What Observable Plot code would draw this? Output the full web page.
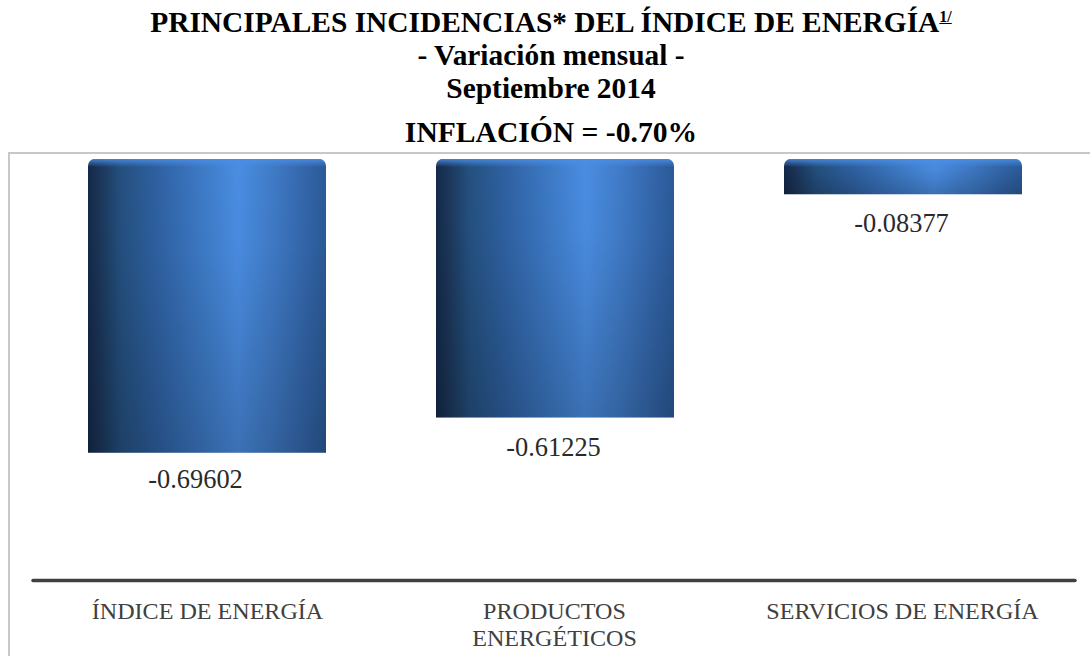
<!DOCTYPE html>
<html><head><meta charset="utf-8">
<script src="https://cdn.jsdelivr.net/npm/d3@7"></script>
<script src="https://cdn.jsdelivr.net/npm/@observablehq/plot@0.6"></script>
<style>
html,body{margin:0;padding:0;background:#fff;}
body{width:1090px;height:656px;overflow:hidden;font-family:"Liberation Serif",serif;}
#t{height:152px;box-sizing:border-box;text-align:center;font-weight:bold;color:#000;width:1090px;margin-left:6px;padding-top:6px}
#t div{font-size:29.4px;line-height:33px}
#t .i{font-size:29.6px;line-height:37px;margin-top:8.5px}
#t sup{font-size:16px;text-decoration:underline;font-weight:bold;line-height:0;vertical-align:10px}
#f{position:absolute;left:8px;top:152px;width:1082px;height:504px;border-top:2px solid #c8c8c8;border-left:2px solid #c8c8c8;box-sizing:border-box}
#c{position:absolute;left:0;top:152px}
svg{display:block}
</style></head><body>
<div id="t"><div>PRINCIPALES INCIDENCIAS* DEL ÍNDICE DE ENERGÍA<sup>1/</sup></div><div>- Variación mensual -</div><div>Septiembre 2014</div><div class="i">INFLACIÓN = -0.70%</div></div>
<div id="f"></div><div id="c"></div>
<script>
const categories = ["ÍNDICE DE ENERGÍA", "PRODUCTOS ENERGÉTICOS", "SERVICIOS DE ENERGÍA"];
const values = [-0.69602, -0.61225, -0.08377];
const labels = ["-0.69602", "-0.61225", "-0.08377"];
const rows = categories.map((c, i) => ({c, v: values[i], l: labels[i]}));

const defs = () => {
  const s = d3.create("svg:g");
  const d = s.append("defs");
  const h = d.append("linearGradient").attr("id","gh").attr("x1",0).attr("x2",1).attr("y1",0).attr("y2",0);
  [[0,"#14294a"],[0.05,"#1b3659"],[0.14,"#24507f"],[0.3,"#2f62a4"],[0.48,"#3d7ac6"],[0.63,"#4a8de2"],[0.78,"#3f7ac6"],[0.93,"#3163a6"],[1,"#2b5a98"]]
    .forEach(([o,c]) => h.append("stop").attr("offset",o).attr("stop-color",c));
  const v = d.append("linearGradient").attr("id","gv").attr("x1",0).attr("x2",0).attr("y1",0).attr("y2",1);
  [[0,"#000",0],[0.3,"#000",0.02],[1,"#000",0.2]]
    .forEach(([o,c,a]) => v.append("stop").attr("offset",o).attr("stop-color",c).attr("stop-opacity",a));
  const b = d.append("linearGradient").attr("id","gb").attr("x1",0).attr("x2",0).attr("y1",0).attr("y2",1);
  [[0,"#4a8fe6",0.85],[1,"#4a8fe6",0]]
    .forEach(([o,c,a]) => b.append("stop").attr("offset",o).attr("stop-color",c).attr("stop-opacity",a));
  return s.node();
};

const tickWrap = {
  "ÍNDICE DE ENERGÍA": ["ÍNDICE DE ENERGÍA"],
  "PRODUCTOS ENERGÉTICOS": ["PRODUCTOS", "ENERGÉTICOS"],
  "SERVICIOS DE ENERGÍA": ["SERVICIOS DE ENERGÍA"]
};

const bottom = -0.9974;

const chart = Plot.plot({
  width: 1090, height: 504,
  marginTop: 7, marginBottom: 76, marginLeft: 33, marginRight: 15,
  style: {background: "transparent", fontFamily: "Liberation Serif"},
  x: {domain: categories, range: [32.6, 1077.6], paddingInner: 0.316, paddingOuter: 0.158, axis: null},
  y: {domain: [bottom, 0], axis: null},
  marks: [
    defs,
    Plot.barY(rows, {x: "c", y1: 0, y2: "v", fill: "url(#gh)", ry1: 7}),
    Plot.barY(rows, {x: "c", y1: 0, y2: "v", fill: "url(#gv)", ry1: 7}),
    Plot.barY(rows, {x: "c", y1: 0, y2: -0.019, fill: "url(#gb)", ry1: 7}),
    Plot.ruleY([bottom], {stroke: "#404040", strokeWidth: 3.5, strokeLinecap: "round"}),
    ...[[-12, 26.6], [-2, 29.3], [-2, 28.9]].map(([dx, dy], i) => Plot.text([rows[i]], {x: "c", y: "v", text: "l", dx, dy, fontSize: 26.4, fill: "#2a2a2a"})),
    ...[0, -1, -1].map((dx, i) => Plot.text([categories[i]], {x: d => d, y: bottom, text: d => tickWrap[d].join("\n"), lineHeight: 1.1, lineAnchor: "top", dx, dy: 20, fontSize: 24.1, fill: "#404040"}))
  ]
});
document.getElementById("c").append(chart);
</script></body></html>
